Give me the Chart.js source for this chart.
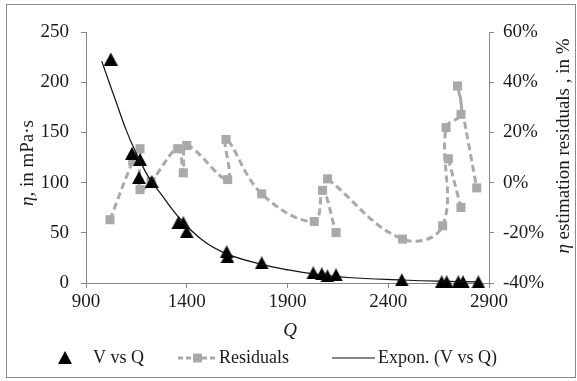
<!DOCTYPE html>
<html>
<head>
<meta charset="utf-8">
<style>
  html, body { margin: 0; padding: 0; background: #fff; }
  #wrap { width: 577px; height: 381px; }
</style>
</head>
<body>
<div id="wrap"><canvas id="my-chart" width="577" height="381"></canvas></div>
<script src="https://cdn.jsdelivr.net/npm/chart.js@4/dist/chart.umd.min.js"></script>
<script>
// measured viscosity vs Q
const vQ = [1023, 1128, 1168, 1163, 1226, 1358, 1383, 1400, 1598, 1602, 1772,
  2028, 2070, 2098, 2141, 2467, 2665, 2690, 2748, 2771, 2847];
const vEta = [223, 129, 123, 105, 101, 60, 60, 51, 31, 26, 20,
  10, 9, 7, 8, 3, 1, 1, 1, 1, 1];

// residuals in %, null breaks the line
const resQ = [1019, 1132, 1168, 1168, 1223, 1355, 1383, 1400, 1603, 1595, 1772,
  2033, 2074, 2141, null, 2099, 2471, 2670, 2687, 2761, 2744, 2839, null, 2698, 2761];
const resPct = [-14.8, 8.5, 13.5, -2.8, 0.5, 13.5, 3.9, 14.8, 1.2, 17.2, -4.5,
  -15.5, -3.1, -19.9, null, 1.5, -22.5, -17.2, 21.9, 27.2, 38.5, -2.1, null, 9.5, -9.9];

// exponential trendline
const trendQ = [978, 1050, 1100, 1143, 1209, 1267, 1367, 1482, 1598, 1763, 1904, 2030, 2200, 2470, 2650, 2847];
const trendEta = [221, 180, 152, 132, 106, 90, 64, 42, 29, 19, 13, 9, 5.5, 3, 1.8, 1.1];

const xTicks = [900, 1400, 1900, 2400, 2900];
const yTicks = [0, 50, 100, 150, 200, 250];
const y2Ticks = [-40, -20, 0, 20, 40, 60];

const serif = '"Liberation Serif", "Times New Roman", serif';
const textColor = '#1a1a1a';
const axisColor = '#868686';
const resColor = '#a9a9a9';

function makeTriangle(w, h, color) {
  const c = document.createElement('canvas');
  c.width = w;
  c.height = h;
  const g = c.getContext('2d');
  g.fillStyle = color;
  g.beginPath();
  g.moveTo(w / 2, 0);
  g.lineTo(w, h);
  g.lineTo(0, h);
  g.closePath();
  g.fill();
  return c;
}
const tri = makeTriangle(14, 13, '#000');

function toPoints(xs, ys) {
  return xs.map((x, i) => ({ x: x, y: ys[i] }));
}

function drawMixed(ctx, parts, size) {
  let total = 0;
  parts.forEach((p) => {
    ctx.font = (p.italic ? 'italic ' : '') + size + 'px ' + serif;
    p.w = ctx.measureText(p.text).width;
    total += p.w;
  });
  let x = -total / 2;
  parts.forEach((p) => {
    ctx.font = (p.italic ? 'italic ' : '') + size + 'px ' + serif;
    ctx.fillText(p.text, x, 0);
    x += p.w;
  });
}

// frame, axis titles and legend
const extras = {
  id: 'extras',
  beforeDraw(chart) {
    const ctx = chart.ctx;
    ctx.save();
    ctx.fillStyle = '#fff';
    ctx.fillRect(0, 0, chart.width, chart.height);
    ctx.strokeStyle = '#8a8a8a';
    ctx.lineWidth = 1;
    ctx.strokeRect(6.5, 4.5, 569, 373);
    ctx.restore();
  },
  afterDraw(chart) {
    const ctx = chart.ctx;
    ctx.save();
    ctx.fillStyle = textColor;
    ctx.textBaseline = 'middle';
    ctx.textAlign = 'left';

    // left title
    ctx.save();
    ctx.translate(28, 163);
    ctx.rotate(-Math.PI / 2);
    drawMixed(ctx, [{ text: 'η', italic: true }, { text: ', in mPa·s' }], 19);
    ctx.restore();

    // right title
    ctx.save();
    ctx.translate(564, 146);
    ctx.rotate(-Math.PI / 2);
    drawMixed(ctx, [{ text: 'η', italic: true }, { text: ' estimation residuals , in %' }], 19);
    ctx.restore();

    // x title
    ctx.save();
    ctx.translate(290, 331);
    drawMixed(ctx, [{ text: 'Q', italic: true }], 19);
    ctx.restore();

    // legend
    const ly = 358;
    ctx.font = '18px ' + serif;
    ctx.drawImage(tri, 58, ly - 7);
    ctx.fillText('V vs Q', 93, ly);

    ctx.strokeStyle = resColor;
    ctx.lineWidth = 3;
    ctx.setLineDash([5, 3]);
    ctx.beginPath();
    ctx.moveTo(178, ly);
    ctx.lineTo(217, ly);
    ctx.stroke();
    ctx.setLineDash([]);
    ctx.fillStyle = resColor;
    ctx.fillRect(193, ly - 4.5, 9, 9);
    ctx.fillStyle = textColor;
    ctx.fillText('Residuals', 219, ly);

    ctx.strokeStyle = '#111';
    ctx.lineWidth = 1.2;
    ctx.beginPath();
    ctx.moveTo(332, ly);
    ctx.lineTo(375, ly);
    ctx.stroke();
    ctx.fillText('Expon. (V vs Q)', 378, ly);
    ctx.restore();
  },
};

const tickFont = { family: serif, size: 19 };

const ctx = document.getElementById('my-chart').getContext('2d');
const myChart = new Chart(ctx, {
  type: 'scatter',
  data: {
    datasets: [
      {
        label: 'Expon. (V vs Q)',
        data: toPoints(trendQ, trendEta),
        showLine: true,
        tension: 0.4,
        borderColor: '#111',
        borderWidth: 1.2,
        pointRadius: 0,
        yAxisID: 'y',
        order: 0,
        clip: false,
      },
      {
        label: 'V vs Q',
        data: toPoints(vQ, vEta),
        pointStyle: tri,
        pointRadius: 8,
        yAxisID: 'y',
        order: 1,
        clip: false,
      },
      {
        label: 'Residuals',
        data: toPoints(resQ, resPct),
        showLine: true,
        spanGaps: false,
        tension: 0.4,
        borderColor: resColor,
        borderWidth: 3,
        borderDash: [7, 4],
        pointStyle: 'rect',
        pointRadius: 6.4,
        pointBorderWidth: 0,
        pointBackgroundColor: resColor,
        yAxisID: 'y2',
        order: 2,
        clip: false,
      },
    ],
  },
  options: {
    responsive: false,
    animation: false,
    devicePixelRatio: 1,
    layout: { padding: { top: 32, left: 0, right: 0, bottom: 0 } },
    plugins: {
      legend: { display: false },
      tooltip: { enabled: false },
    },
    scales: {
      x: {
        type: 'linear',
        min: 900,
        max: 2900,
        afterBuildTicks: (s) => { s.ticks = xTicks.map((v) => ({ value: v })); },
        afterFit: (s) => { s.height = 98; },
        ticks: { font: tickFont, color: textColor, padding: 3, callback: (v) => String(v) },
        grid: { drawOnChartArea: false, tickLength: 5, color: axisColor },
        border: { color: axisColor },
      },
      y: {
        position: 'left',
        min: 0,
        max: 250,
        afterBuildTicks: (s) => { s.ticks = yTicks.map((v) => ({ value: v })); },
        afterFit: (s) => { s.width = 86; },
        ticks: { font: tickFont, color: textColor, padding: 12, callback: (v) => String(v) },
        grid: { drawOnChartArea: false, tickLength: 5, color: axisColor },
        border: { color: axisColor },
      },
      y2: {
        position: 'right',
        min: -40,
        max: 60,
        afterBuildTicks: (s) => { s.ticks = y2Ticks.map((v) => ({ value: v })); },
        afterFit: (s) => { s.width = 88; },
        ticks: { font: tickFont, color: textColor, padding: 9, callback: (v) => v + '%' },
        grid: { drawOnChartArea: false, tickLength: 5, color: axisColor },
        border: { color: axisColor },
      },
    },
  },
  plugins: [extras],
});
</script>
</body>
</html>
